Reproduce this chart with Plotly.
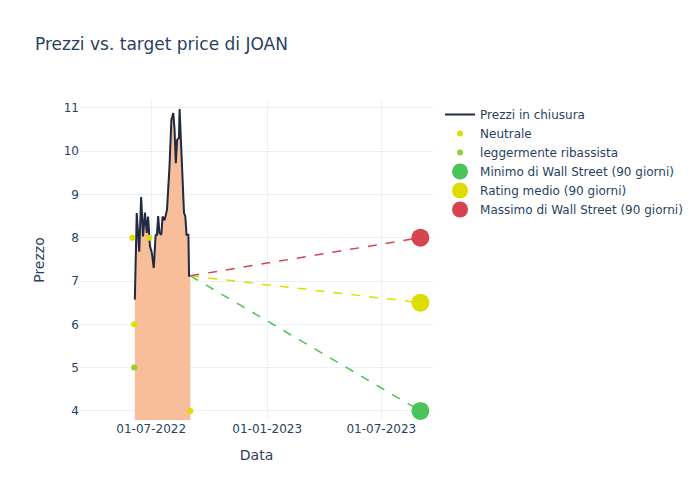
import plotly.graph_objects as go

price_dates = [
    "2022-06-05", "2022-06-08", "2022-06-12", "2022-06-15", "2022-06-18", "2022-06-21",
    "2022-06-24", "2022-06-26", "2022-06-29", "2022-07-02", "2022-07-05", "2022-07-08",
    "2022-07-10", "2022-07-12", "2022-07-14", "2022-07-17", "2022-07-19", "2022-07-22",
    "2022-07-26", "2022-07-30", "2022-08-02", "2022-08-05", "2022-08-07", "2022-08-09",
    "2022-08-11", "2022-08-14", "2022-08-15", "2022-08-17", "2022-08-19", "2022-08-22",
    "2022-08-24", "2022-08-26", "2022-08-29", "2022-08-30", "2022-09-01",
]
price_values = [
    6.57, 8.57, 7.68, 8.94, 8.03, 8.58,
    8.11, 8.49, 7.80, 7.65, 7.30, 8.07,
    8.05, 8.50, 8.11, 8.07, 8.49, 8.40,
    8.64, 9.65, 10.72, 10.88, 10.50, 9.72,
    10.26, 10.30, 10.97, 10.30, 9.26, 8.57,
    8.50, 8.07, 8.07, 7.12, 7.12,
]

neutral_dates = ["2022-06-01", "2022-06-04", "2022-06-28", "2022-09-01"]
neutral_values = [8.0, 6.0, 8.0, 4.0]
slightly_bearish_dates = ["2022-06-04"]
slightly_bearish_values = [5.0]

target_date = "2023-09-01"
target_low = 4.0
target_avg = 6.5
target_high = 8.0

last_date = price_dates[-1]
last_price = price_values[-1]

GREEN = "#4cc35a"
YELLOW = "#dddd00"
RED = "#d5444f"

fig = go.Figure()
fig.add_trace(go.Scatter(
    x=price_dates, y=price_values, mode="none", fill="tozeroy",
    fillcolor="rgba(248,186,148,0.95)", showlegend=False, hoverinfo="skip",
))
fig.add_trace(go.Scatter(
    x=price_dates, y=price_values, mode="lines", name="Prezzi in chiusura",
    line=dict(color="#1f2a44", width=2),
))
fig.add_trace(go.Scatter(
    x=neutral_dates, y=neutral_values, mode="markers", name="Neutrale",
    marker=dict(color=YELLOW, size=6),
))
fig.add_trace(go.Scatter(
    x=slightly_bearish_dates, y=slightly_bearish_values, mode="markers",
    name="leggermente ribassista", marker=dict(color="#9acd32", size=6),
))
for val, color in [(target_low, GREEN), (target_avg, YELLOW), (target_high, RED)]:
    fig.add_trace(go.Scatter(
        x=[last_date, target_date], y=[last_price, val], mode="lines",
        line=dict(color=color, dash="dash", width=1.5), showlegend=False, hoverinfo="skip",
    ))
for val, color, name in [
    (target_low, GREEN, "Minimo di Wall Street (90 giorni)"),
    (target_avg, YELLOW, "Rating medio (90 giorni)"),
    (target_high, RED, "Massimo di Wall Street (90 giorni)"),
]:
    fig.add_trace(go.Scatter(
        x=[target_date], y=[val], mode="markers", name=name,
        marker=dict(color=color, size=18),
    ))

fig.update_layout(
    template="plotly_white",
    width=700, height=500,
    font=dict(family="DejaVu Sans", color="#2a3f5f"),
    title=dict(text="Prezzi vs. target price di JOAN", font=dict(size=17)),
    xaxis=dict(title="Data", range=["2022-03-10", "2023-09-21"], tickformat="%d-%m-%Y",
               tickvals=["2022-07-01", "2023-01-01", "2023-07-01"]),
    yaxis=dict(title="Prezzo", range=[3.79, 11.18], dtick=1),
)
fig.write_html("out.html", config={"displayModeBar": False},
               post_script="document.body.style.margin='0';")
